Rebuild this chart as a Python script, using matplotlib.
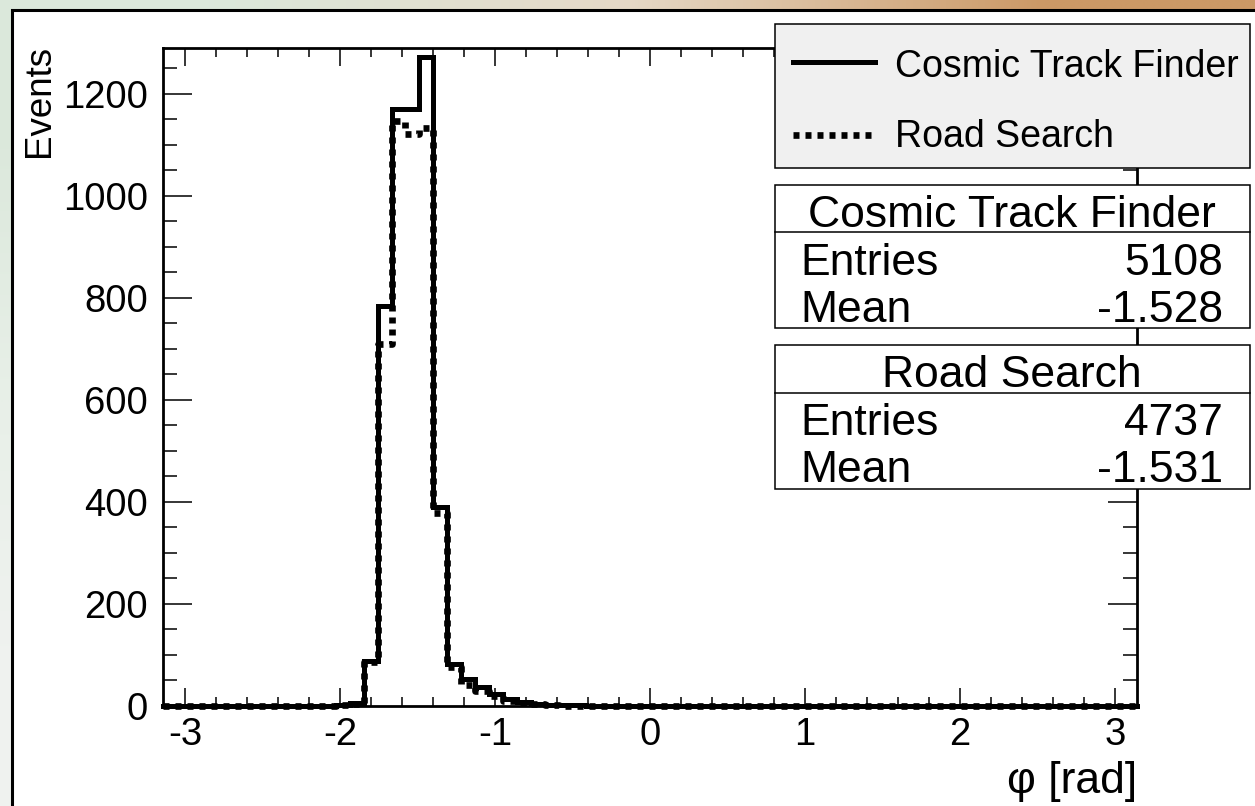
import numpy as np
import matplotlib
matplotlib.use('Agg')
import matplotlib.pyplot as plt
from matplotlib.patches import Rectangle
from matplotlib.lines import Line2D

# histogram de phi: bins de 2*pi/70, un borde cae en -1.398
bin_width = 2 * np.pi / 70
first_edge = -1.398 - 20 * bin_width

cosmic_counts = [0] * 13 + [1, 5, 88, 785, 1171, 1171, 1273, 390, 83, 52, 38, 23,
                            14, 7, 4, 2, 1, 1] + [0] * 40
road_counts = [0] * 13 + [1, 4, 86, 710, 1146, 1121, 1133, 378, 76, 42, 30, 19,
                          10, 5, 3, 1] + [0] * 42

legend_labels = ['Cosmic Track Finder', 'Road Search']
entries = [5108, 4737]
means = [-1.528, -1.531]

x_ticks = [-3, -2, -1, 0, 1, 2, 3]
y_ticks = [0, 200, 400, 600, 800, 1000, 1200]

W, H = 1255, 806
plt.rcParams['font.family'] = ['Liberation Sans', 'DejaVu Sans']
plt.rcParams['axes.unicode_minus'] = False


def fx(px):
    return px / W


def fy(py):
    return 1 - py / H


def pasos(counts):
    edges = first_edge + bin_width * np.arange(len(counts) + 1)
    edges = np.clip(edges, -np.pi, np.pi)
    x = np.repeat(edges, 2)[1:-1]
    y = np.repeat(np.array(counts, dtype=float), 2)
    return x, y


def fondo(fig):
    bg = fig.add_axes([0, 0, 1, 1], zorder=-10)
    img = np.array([
        [[0.86, 0.91, 0.86], [0.90, 0.85, 0.78], [0.80, 0.60, 0.40]],
        [[0.91, 0.94, 0.91], [0.93, 0.92, 0.90], [0.90, 0.85, 0.78]],
        [[0.94, 0.95, 0.94], [0.94, 0.94, 0.94], [0.94, 0.94, 0.94]],
    ])
    bg.imshow(img, aspect='auto', interpolation='bilinear', extent=[0, 1, 0, 1])
    bg.axis('off')
    fig.patches.append(Rectangle((fx(12), -0.05), 1.1, fy(10) + 0.05,
                                 transform=fig.transFigure, facecolor='white',
                                 edgecolor='black', lw=2.2, zorder=-5))


def caja_stats(fig, top, sep, bottom, title, n, mean, y_title, y_ent, y_mean):
    fig.patches.append(Rectangle((fx(775), fy(bottom)), fx(1250) - fx(775),
                                 fy(top) - fy(bottom), transform=fig.transFigure,
                                 facecolor='white', edgecolor='black', lw=1.1, zorder=5))
    fig.lines.append(Line2D([fx(775), fx(1250)], [fy(sep), fy(sep)],
                            transform=fig.transFigure, color='black', lw=1.1, zorder=6))
    fs = 32
    fig.text(fx(1012), fy(y_title), title, ha='center', va='baseline', fontsize=fs, zorder=7)
    fig.text(fx(800), fy(y_ent), 'Entries', ha='left', va='baseline', fontsize=fs, zorder=7)
    fig.text(fx(1223), fy(y_ent), str(n), ha='right', va='baseline', fontsize=fs, zorder=7)
    fig.text(fx(800), fy(y_mean), 'Mean', ha='left', va='baseline', fontsize=fs, zorder=7)
    fig.text(fx(1223), fy(y_mean), '%.3f' % mean, ha='right', va='baseline', fontsize=fs, zorder=7)


def generar_grafica():
    fig = plt.figure(figsize=(W / 100, H / 100), dpi=100)
    fondo(fig)

    ax = fig.add_axes([fx(163), fy(706), fx(1137) - fx(163), fy(48) - fy(706)])
    ax.set_facecolor('white')

    x1, y1 = pasos(cosmic_counts)
    x2, y2 = pasos(road_counts)
    ax.plot(x1, y1, color='black', lw=3.6, clip_on=False, solid_joinstyle='miter')
    ax.plot(x2, y2, color='black', lw=4.8, linestyle=(0, (0.9, 0.9)), clip_on=False)

    ax.set_xlim(-np.pi, np.pi)
    ax.set_ylim(0, 1290)
    ax.set_xticks(x_ticks)
    ax.set_xticks(np.arange(-3.0, 3.01, 0.2), minor=True)
    ax.set_yticks(y_ticks)
    ax.set_yticks(np.arange(0, 1290, 50), minor=True)
    ax.tick_params(which='both', direction='in', top=True, right=True, width=1.1,
                   labelsize=27.5, colors='black')
    ax.xaxis.set_tick_params(which='major', length=13, pad=8)
    ax.xaxis.set_tick_params(which='minor', length=6.5)
    ax.yaxis.set_tick_params(which='major', length=21, pad=11)
    ax.yaxis.set_tick_params(which='minor', length=10)
    for s in ax.spines.values():
        s.set_linewidth(2)

    fig.text(fx(39), fy(45), 'Events', rotation=90, ha='center', va='top', fontsize=26.5)
    fig.text(fx(1137), fy(781), 'φ [rad]', ha='right', va='center', fontsize=32)

    # leyenda
    fig.patches.append(Rectangle((fx(775), fy(168)), fx(1250) - fx(775), fy(24) - fy(168),
                                 transform=fig.transFigure, facecolor='#f0f0f0',
                                 edgecolor='black', lw=1.1, zorder=5))
    fig.lines.append(Line2D([fx(793), fx(875)], [fy(62), fy(62)], transform=fig.transFigure,
                            color='black', lw=3.6, zorder=6))
    fig.lines.append(Line2D([fx(793), fx(876)], [fy(135), fy(135)], transform=fig.transFigure,
                            color='black', lw=4.8, linestyle=(0, (0.9, 0.9)), zorder=6))
    fig.text(fx(895), fy(77), legend_labels[0], ha='left', va='baseline', fontsize=27, zorder=7)
    fig.text(fx(895), fy(147), legend_labels[1], ha='left', va='baseline', fontsize=27, zorder=7)

    caja_stats(fig, 185, 232, 328, legend_labels[0], entries[0], means[0], 227, 275, 322)
    caja_stats(fig, 345, 393, 489, legend_labels[1], entries[1], means[1], 387, 435, 482)

    fig.savefig('out.png', dpi=100)
    plt.close('all')


if __name__ == '__main__':
    generar_grafica()
